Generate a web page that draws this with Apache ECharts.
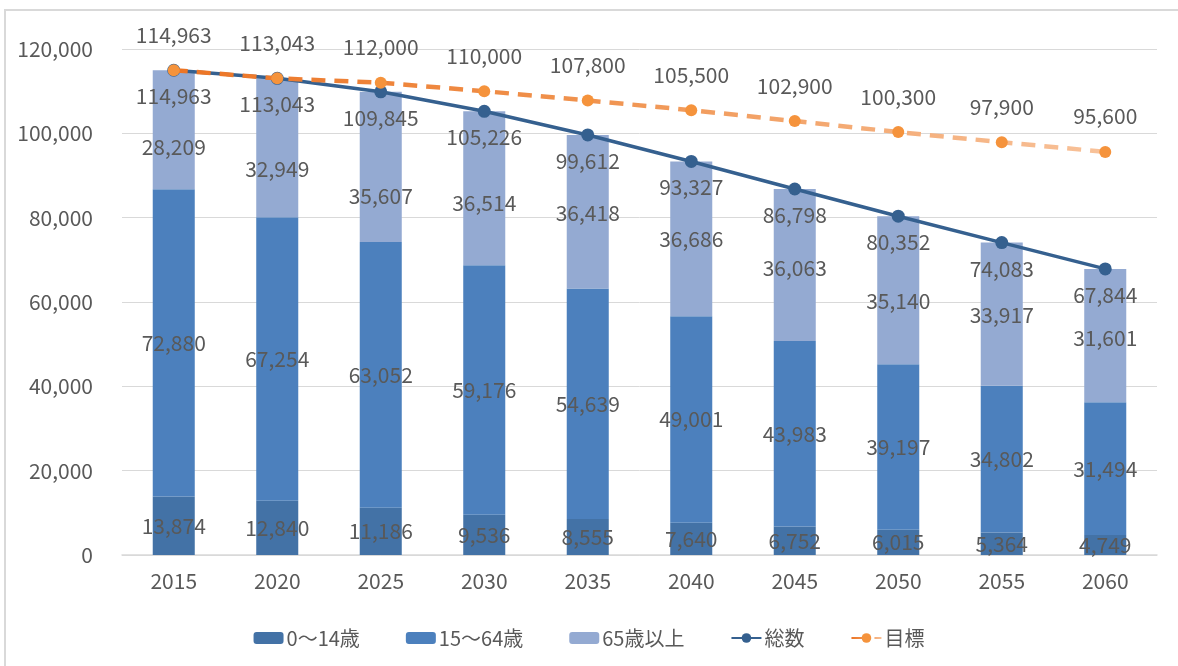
<!DOCTYPE html>
<html><head><meta charset="utf-8">
<script src="https://cdn.jsdelivr.net/npm/echarts@6/dist/echarts.min.js"></script>
<style>html,body{margin:0;padding:0;background:#fff}#c{width:1178px;height:666px}</style>
</head><body><div id="c"></div>
<script>
const years = ['2015','2020','2025','2030','2035','2040','2045','2050','2055','2060'];
const age0_14 = [13874,12840,11186,9536,8555,7640,6752,6015,5364,4749];
const age15_64 = [72880,67254,63052,59176,54639,49001,43983,39197,34802,31494];
const age65 = [28209,32949,35607,36514,36418,36686,36063,35140,33917,31601];
const total = [114963,113043,109845,105226,99612,93327,86798,80352,74083,67844];
const target = [114963,113043,112000,110000,107800,105500,102900,100300,97900,95600];
const seriesNames = ['0～14歳','15～64歳','65歳以上','総数','目標'];

// label nudges (pixels) for the 65+ labels, as placed in the reference
const agedLabelNudge = [17,21,29,15,1,0,3,11,1,2];

const FONT = '"Noto Sans CJK JP","Noto Sans",sans-serif';
const TXT = '#595959';
const FS = 21;
const fmt = v => Number(v).toLocaleString('en-US');
const chart = echarts.init(document.getElementById('c'));
const barLabel = {show:true, position:'inside', color:TXT, fontSize:FS, fontFamily:FONT, formatter:p=>fmt(p.value)};
chart.setOption({
  animation:false,
  textStyle:{fontFamily:FONT},
  graphic:[{type:'rect', shape:{x:5,y:10,width:1200,height:700}, style:{fill:'none', stroke:'#d9d9d9', lineWidth:2}, silent:true}],
  grid:{left:122, right:21, top:49, bottom:111},
  legend:{
    bottom:13, left:'center', itemGap:46, itemWidth:30, itemHeight:12,
    textStyle:{color:TXT, fontSize:20, fontFamily:FONT, padding:[0,0,0,-2]},
    data:seriesNames
  },
  xAxis:{
    type:'category', data:years,
    axisLine:{lineStyle:{color:'#d9d9d9', width:1.5}},
    axisTick:{show:false},
    axisLabel:{color:TXT, fontSize:FS, margin:16, fontFamily:FONT}
  },
  yAxis:{
    type:'value', min:0, max:120000, interval:20000,
    axisLine:{show:false}, axisTick:{show:false},
    splitLine:{lineStyle:{color:'#d9d9d9', width:1}},
    axisLabel:{color:TXT, fontSize:FS, margin:29, fontFamily:FONT, formatter:v=>fmt(v)}
  },
  series:[
    {name:seriesNames[0], type:'bar', stack:'pop', data:age0_14, barWidth:'40.6%', itemStyle:{color:'#4372a6'}, label:barLabel},
    {name:seriesNames[1], type:'bar', stack:'pop', data:age15_64, itemStyle:{color:'#4c80bd'}, label:barLabel},
    {name:seriesNames[2], type:'bar', stack:'pop',
      data:age65.map((v,i)=>({value:v, label:{offset:[0,agedLabelNudge[i]]}})),
      itemStyle:{color:'#94aad2'}, label:barLabel},
    {name:seriesNames[3], type:'line', data:total, symbol:'circle', symbolSize:13,
      lineStyle:{color:'#35608f', width:3.5}, itemStyle:{color:'#35608f'},
      label:{show:true, position:'bottom', distance:9, color:TXT, fontSize:FS, fontFamily:FONT, formatter:p=>fmt(p.value)}, z:5},
    {name:seriesNames[4], type:'line', data:target, symbol:'circle', symbolSize:12,
      lineStyle:{width:4.5, type:[14,9], color:new echarts.graphic.LinearGradient(0,0,1,0,[{offset:0,color:'#ec7424'},{offset:0.45,color:'#f0934f'},{offset:1,color:'#f8c29a'}])},
      itemStyle:{color:'#f5933c'},
      label:{show:true, position:'top', distance:19, color:TXT, fontSize:FS, fontFamily:FONT, formatter:p=>fmt(p.value)}, z:6}
  ]
});
</script></body></html>
